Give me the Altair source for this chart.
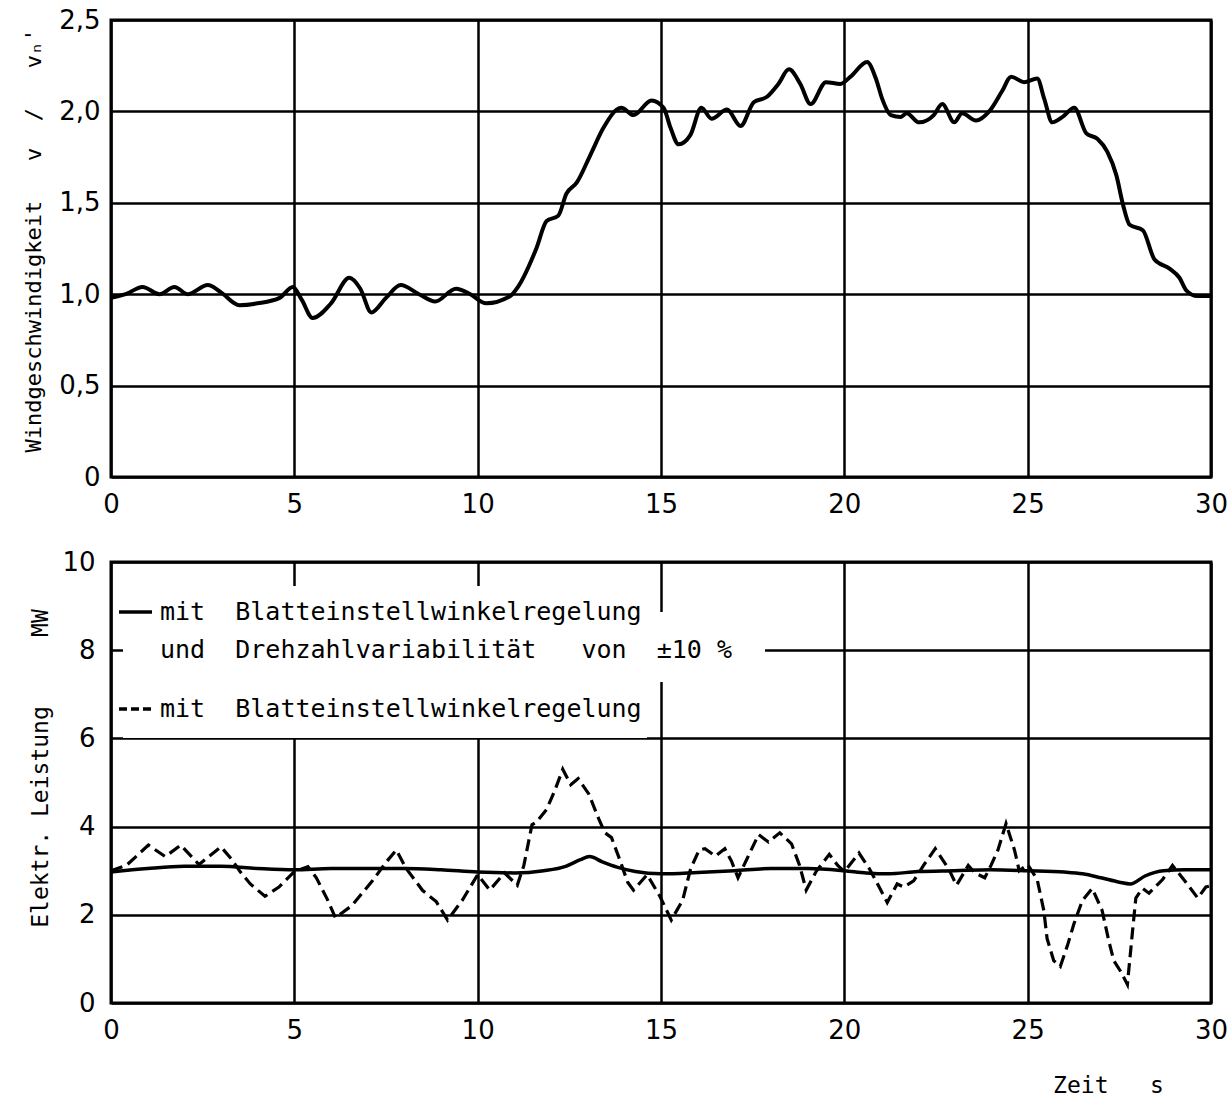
import altair as alt
import pandas as pd

# ---------------- data ----------------
t_wind = [0, 0.4, 0.86, 1.32, 1.73, 2.09, 2.64, 3.0, 3.5, 4.0, 4.6, 4.96, 5.2, 5.5, 6.0,
          6.5, 6.8, 7.1, 7.5, 7.9, 8.4, 8.84, 9.41, 9.8, 10.23, 10.89, 11.1, 11.6, 11.88,
          12.2, 12.42, 12.7, 13.07, 13.43, 13.79, 13.92, 14.25, 14.74, 15.07, 15.26, 15.48,
          15.8, 16.1, 16.38, 16.8, 17.17, 17.53, 17.89, 18.2, 18.49, 18.8, 19.08, 19.5,
          19.89, 20.17, 20.62, 20.86, 21.03, 21.27, 21.54, 21.7, 22.04, 22.44, 22.67, 23.0,
          23.21, 23.59, 23.95, 24.3, 24.55, 24.9, 25.26, 25.45, 25.67, 25.95, 26.27, 26.6,
          26.9, 27.17, 27.42, 27.6, 27.78, 28.14, 28.46, 28.87, 29.14, 29.33, 29.63, 30.0]
v_wind = [0.98, 1.0, 1.04, 1.0, 1.04, 1.0, 1.05, 1.01, 0.94, 0.95, 0.98, 1.04, 0.97, 0.87, 0.95,
          1.09, 1.03, 0.90, 0.98, 1.05, 1.0, 0.96, 1.03, 1.0, 0.95, 0.99, 1.04, 1.25, 1.40,
          1.43, 1.55, 1.61, 1.76, 1.91, 2.01, 2.02, 1.98, 2.06, 2.02, 1.91, 1.82,
          1.87, 2.02, 1.96, 2.01, 1.92, 2.05, 2.08, 2.15, 2.23, 2.15, 2.04, 2.16,
          2.15, 2.19, 2.27, 2.18, 2.07, 1.98, 1.97, 1.99, 1.94, 1.98, 2.04, 1.94,
          1.99, 1.95, 2.0, 2.11, 2.19, 2.16, 2.18, 2.07, 1.94, 1.97, 2.02, 1.88,
          1.85, 1.78, 1.65, 1.49, 1.38, 1.35, 1.19, 1.14, 1.09, 1.02, 0.99, 0.99]

t_solid = [0, 1, 2, 3, 4, 5, 6, 7, 8, 9, 10, 11, 11.8, 12.4, 12.8, 13.05, 13.4, 13.8, 14.3,
           15, 16, 17, 18, 19, 20, 20.6, 21.2, 22, 23, 24, 25, 26, 26.5, 27, 27.5, 27.8,
           28.2, 28.7, 29.3, 30]
p_solid = [2.97, 3.05, 3.1, 3.1, 3.05, 3.02, 3.05, 3.05, 3.05, 3.02, 2.97, 2.95, 3.0, 3.1,
           3.25, 3.32, 3.2, 3.08, 2.98, 2.93, 2.96, 3.0, 3.05, 3.05, 3.0, 2.95, 2.93, 2.98,
           3.0, 3.02, 3.0, 2.97, 2.93, 2.84, 2.74, 2.7, 2.88, 3.0, 3.02, 3.02]

t_dash = [0, 0.42, 1.02, 1.48, 1.9, 2.4, 3.0, 3.29, 3.52, 3.8, 4.2, 4.58, 5.0, 5.37, 5.6,
          5.9, 6.12, 6.57, 7.13, 7.5, 7.78, 8.05, 8.5, 8.87, 9.18, 9.58, 10.0, 10.33, 10.73,
          11.08, 11.26, 11.48, 11.6, 11.88, 12.1, 12.32, 12.54, 12.74, 13.03, 13.3, 13.47,
          13.65, 13.87, 14.09, 14.25, 14.62, 14.97, 15.28, 15.59, 15.81, 16.04, 16.2, 16.48,
          16.74, 16.92, 17.1, 17.34, 17.66, 17.93, 18.24, 18.56, 18.78, 18.96, 19.23, 19.59,
          19.82, 20.0, 20.4, 20.68, 20.95, 21.17, 21.44, 21.62, 21.89, 22.16, 22.48, 22.84,
          23.06, 23.38, 23.56, 23.83, 24.0, 24.19, 24.41, 24.64, 24.77, 25.0, 25.26, 25.44,
          25.53, 25.71, 25.89, 26.08, 26.26, 26.49, 26.76, 27.03, 27.22, 27.35, 27.54, 27.72,
          27.86, 27.95, 28.13, 28.31, 28.68, 28.95, 29.32, 29.64, 29.86, 30.0]
p_dash = [3.0, 3.12, 3.58, 3.32, 3.58, 3.14, 3.54, 3.26, 2.98, 2.70, 2.42, 2.63, 2.98, 3.09, 2.84,
          2.35, 1.93, 2.21, 2.77, 3.19, 3.47, 3.05, 2.55, 2.3, 1.88, 2.33, 2.91, 2.56, 2.95,
          2.67, 3.12, 4.04, 4.1, 4.39, 4.81, 5.3, 4.95, 5.09, 4.74, 4.18, 3.86,
          3.75, 3.26, 2.74, 2.56, 2.91, 2.42, 1.88, 2.33, 3.05, 3.47, 3.5, 3.33,
          3.5, 3.22, 2.84, 3.26, 3.82, 3.65, 3.86, 3.61, 3.12, 2.56, 2.98, 3.37,
          3.12, 2.98, 3.4, 3.05, 2.63, 2.28, 2.7, 2.63, 2.77, 3.12, 3.5, 3.05,
          2.67, 3.12, 2.95, 2.84, 3.12, 3.47, 4.07, 3.47, 3.0, 3.14, 2.8, 2.1,
          1.46, 0.96, 0.83, 1.29, 1.79, 2.32, 2.6, 2.1, 1.38, 0.96, 0.71, 0.42,
          1.63, 2.38, 2.6, 2.49, 2.8, 3.12, 2.73, 2.38, 2.63, 2.66]

x_ticks = [0, 5, 10, 15, 20, 25, 30]
y_ticks_top = [0, 0.5, 1.0, 1.5, 2.0, 2.5]
y_ticks_bottom = [0, 2, 4, 6, 8, 10]

NB = "\u00a0"
title_top = "Windgeschwindigkeit" + NB * 3 + "v" + NB * 2 + "/" + NB * 3 + "v\u2099'"
title_bottom = "Elektr." + NB + "Leistung" + NB * 5 + "MW"
title_x = "Zeit" + NB * 3 + "s"
legend_1 = "mit" + NB * 2 + "Blatteinstellwinkelregelung"
legend_2 = "und" + NB * 2 + "Drehzahlvariabilität" + NB * 3 + "von" + NB * 2 + "±10" + NB + "%"
legend_3 = "mit" + NB * 2 + "Blatteinstellwinkelregelung"

# ---------------- styling ----------------
W = 1100
H_TOP = 457
H_BOT = 441
LABEL_FONT = "DejaVu Sans"
TEXT_FONT = "DejaVu Sans Mono"

df_wind = pd.DataFrame({"t": t_wind, "v": v_wind})
df_solid = pd.DataFrame({"t": t_solid, "p": p_solid})
df_dash = pd.DataFrame({"t": t_dash, "p": p_dash})

x_scale = alt.Scale(domain=[0, 30], nice=False, zero=False)

top = alt.Chart(df_wind).mark_line(color="black", strokeWidth=4, interpolate="monotone").encode(
    x=alt.X("t:Q", scale=x_scale,
            axis=alt.Axis(values=x_ticks, title=None, labelPadding=14, labelFlush=False)),
    y=alt.Y("v:Q", scale=alt.Scale(domain=[0, 2.5], nice=False),
            axis=alt.Axis(values=y_ticks_top, title=title_top, labelPadding=11, labelFlush=False,
                          labelExpr="datum.value == 0 ? '0' : replace(format(datum.value, '.1f'), '.', ',')",
                          titleX=-78, titleY=220, titleAlign="center", titleBaseline="middle",
                          titleAngle=270, titleFontSize=22)),
).properties(width=W, height=H_TOP)

bx = alt.X("t:Q", scale=x_scale,
           axis=alt.Axis(values=x_ticks, title=title_x, labelPadding=14, labelFlush=False,
                         titleX=997, titleY=82, titleAlign="center", titleBaseline="middle"))
by = alt.Y("p:Q", scale=alt.Scale(domain=[0, 10], nice=False),
           axis=alt.Axis(values=y_ticks_bottom, title=title_bottom, labelPadding=16,
                         labelFlush=False,
                         titleX=-71, titleY=206, titleAlign="center", titleBaseline="middle",
                         titleAngle=270))

one = pd.DataFrame({"k": [0]})

def white_box(x0, x1, y0, y1):
    return alt.Chart(one).mark_rect(color="white").encode(
        x=alt.value(x0), x2=alt.value(x1), y=alt.value(y0), y2=alt.value(y1))

def legend_text(txt, y):
    return alt.Chart(pd.DataFrame({"label": [txt]})).mark_text(
        align="left", baseline="middle", font=TEXT_FONT, fontSize=25, color="black"
    ).encode(x=alt.value(49), y=alt.value(y), text="label:N")

boxes = white_box(12, 536, 24, 70) + white_box(12, 654, 50, 120) + white_box(12, 536, 120, 176)

sample_solid = alt.Chart(one).mark_rule(color="black", strokeWidth=3.5).encode(
    x=alt.value(8), x2=alt.value(41), y=alt.value(50))
sample_dash = alt.Chart(one).mark_rule(color="black", strokeWidth=3.5, strokeDash=[8, 4]).encode(
    x=alt.value(8), x2=alt.value(44), y=alt.value(147))

solid = alt.Chart(df_solid).mark_line(color="black", strokeWidth=3.5, interpolate="monotone").encode(
    x=bx, y=by)
dash = alt.Chart(df_dash).mark_line(color="black", strokeWidth=3.2, strokeDash=[12, 6],
                                    interpolate="linear").encode(x=bx, y=by)

bottom = alt.layer(
    solid, dash, boxes, sample_solid, sample_dash,
    legend_text(legend_1, 50), legend_text(legend_2, 88), legend_text(legend_3, 147),
).properties(width=W, height=H_BOT)

chart = alt.vconcat(top, bottom, spacing=85, bounds="flush").properties(
    padding={"left": 20, "top": 5, "right": 0, "bottom": 5},
    background="white",
).configure_view(
    stroke="black", strokeWidth=3
).configure_axis(
    grid=True, gridColor="black", gridWidth=2.5, gridOpacity=1,
    domain=False, ticks=False,
    labelFont=LABEL_FONT, labelFontSize=26, labelColor="black",
    titleFont=TEXT_FONT, titleFontSize=23, titleColor="black", titleFontWeight="normal",
)

chart.save("out.html", embed_options={"renderer": "svg", "actions": False})
